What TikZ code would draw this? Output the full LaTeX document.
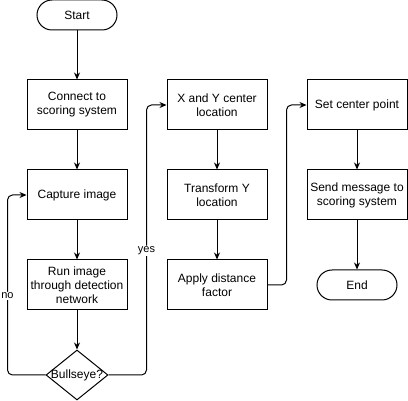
\documentclass[tikz,border=0pt]{standalone}
\usepackage{fontspec}
\setmainfont{Liberation Sans}
\usetikzlibrary{shapes.geometric,arrows.meta}
\begin{document}
\begin{tikzpicture}[x=1pt,y=-1pt,
    font=\fontsize{12}{14}\selectfont,
    every node/.style={line width=1pt},
    proc/.style={draw,rectangle,minimum width=100pt,minimum height=50pt,align=center,inner sep=0pt},
    term/.style={draw,rectangle,rounded corners=15pt,minimum width=80pt,minimum height=30pt,inner sep=0pt},
    decide/.style={draw,diamond,minimum width=62pt,minimum height=50pt,inner sep=0pt},
    flow/.style={line width=1pt,-{Stealth[length=7pt,width=6pt]}},
    lbl/.style={fill=white,font=\fontsize{11}{13}\selectfont,inner sep=1pt}]
      \useasboundingbox (0,0) rectangle (408,401);
      % first column
      \node[term] (start) at (77,15) {Start};
      \node[proc] (connect) at (77,105) {Connect to\\scoring system};
      \node[proc] (capture) at (77,195) {Capture image};
      \node[proc] (run) at (77,285) {Run image\\through detection\\network};
      \node[decide,label={center:Bullseye?}] (bull) at (77,375) {};
      % second column
      \node[proc] (xy) at (217,105) {X and Y center\\location};
      \node[proc] (transform) at (217,195) {Transform Y\\location};
      \node[proc] (apply) at (217,285) {Apply distance\\factor};
      % third column
      \node[proc] (setpt) at (357,105) {Set center point};
      \node[proc] (send) at (357,195) {Send message to\\scoring system};
      \node[term] (finish) at (357,285) {End};
      \draw[flow] (start) -- (connect);
      \draw[flow] (connect) -- (capture);
      \draw[flow] (capture) -- (run);
      \draw[flow] (run) -- (bull);
      \draw[flow] (xy) -- (transform);
      \draw[flow] (transform) -- (apply);
      \draw[flow] (setpt) -- (send);
      \draw[flow] (send) -- (finish);
      \draw[flow,rounded corners=5pt] (bull.west) -| node[lbl,pos=0.72] (no) {no} ([xshift=-19pt]capture.west) -- (capture.west);
      \draw[flow,rounded corners=5pt] (bull.east) -| node[lbl,pos=0.73] (yes) {yes} ([xshift=-20pt]xy.west) -- (xy.west);
      \draw[flow,rounded corners=5pt] (apply.east) -| ([xshift=-20pt]setpt.west) -- (setpt.west);
    \end{tikzpicture}
\end{document}
